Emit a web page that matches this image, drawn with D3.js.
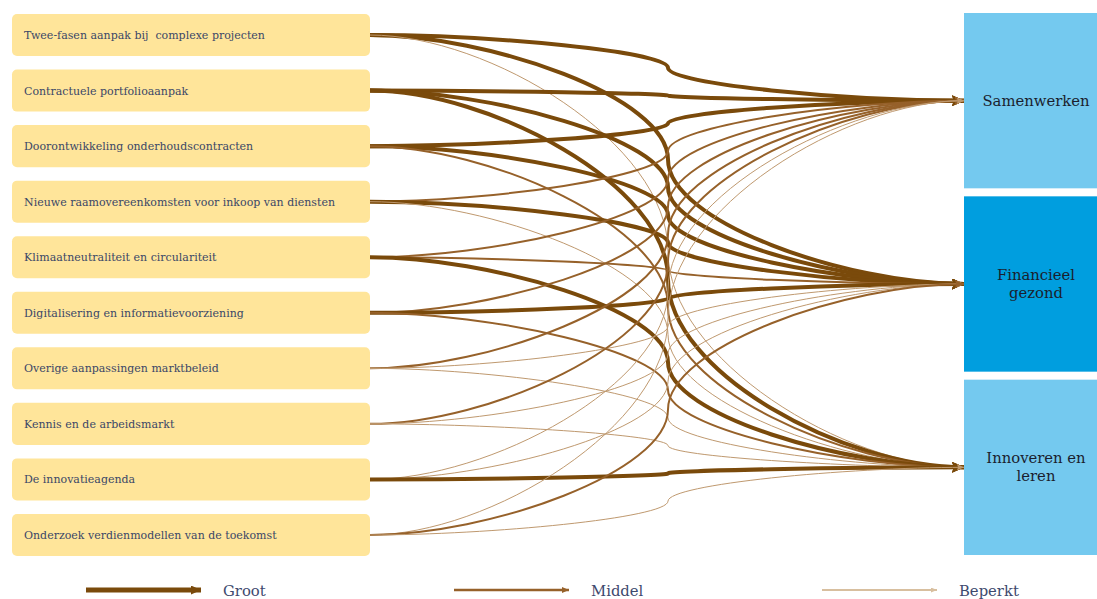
<!DOCTYPE html>
<html>
<head>
<meta charset="utf-8">
<script src="https://cdn.jsdelivr.net/npm/d3@7"></script>
<style>
  html, body { margin: 0; padding: 0; background: #ffffff; }
  svg { display: block; }
</style>
</head>
<body>
<svg id="chart" width="1097" height="599"></svg>
<script>
// ---- data ----
const sources = [
  "Twee-fasen aanpak bij  complexe projecten",
  "Contractuele portfolioaanpak",
  "Doorontwikkeling onderhoudscontracten",
  "Nieuwe raamovereenkomsten voor inkoop van diensten",
  "Klimaatneutraliteit en circulariteit",
  "Digitalisering en informatievoorziening",
  "Overige aanpassingen marktbeleid",
  "Kennis en de arbeidsmarkt",
  "De innovatieagenda",
  "Onderzoek verdienmodellen van de toekomst"
];
const targets = ["Samenwerken", "Financieel\ngezond", "Innoveren en\nleren"];
const levels = ["Groot", "Middel", "Beperkt"];
const impactSamenwerken = ["Groot","Groot","Groot","Middel","Middel","Middel","Middel","Middel","Beperkt","Beperkt"];
const impactFinancieel  = ["Groot","Groot","Groot","Groot","Middel","Groot","Beperkt","Beperkt","Beperkt","Middel"];
const impactInnoveren   = ["Beperkt","Groot","Middel","Beperkt","Groot","Middel","Beperkt","Beperkt","Groot","Beperkt"];
const impacts = [impactSamenwerken, impactFinancieel, impactInnoveren];

// ---- build links ----
const links = [];
sources.forEach((s, i) => {
  targets.forEach((t, j) => {
    links.push({ source: s, target: t, level: impacts[j][i] });
  });
});

const svg = d3.select("#chart");

// ---- scales ----
const ySrc = d3.scaleBand().domain(sources).range([14, 556]).paddingInner(0.243);
const yTgt = d3.scaleBand().domain(targets).range([13, 555]).paddingInner(0.0437);
const widthScale = d3.scaleOrdinal(levels, [4, 2, 1]);
const colorScale = d3.scaleOrdinal(levels, ["#7A4A0B", "#96612A", "#BF996F"]);
const legendColor = d3.scaleOrdinal(levels, ["#7A4A0B", "#96612A", "#D8BF9F"]);
const legendWidth = d3.scaleOrdinal(levels, [5, 2.5, 2]);
const markerSize = d3.scaleOrdinal(levels, [[12, 11], [9, 8], [7, 6]]);
const legendMarker = d3.scaleOrdinal(levels, [[10, 9], [7, 6], [6, 5]]);
const xLegend = d3.scalePoint().domain(levels).range([86, 822]);

const srcX0 = 12, srcX1 = 370, midX = 668, tgtTipX = 964, tgtX0 = 964, tgtX1 = 1110;

// ---- markers ----
const defs = svg.append("defs");
levels.forEach(l => {
  const [w, h] = markerSize(l);
  defs.append("marker")
    .attr("id", "arrow-" + l)
    .attr("markerUnits", "userSpaceOnUse")
    .attr("viewBox", `0 0 ${w} ${h}`)
    .attr("refX", w).attr("refY", h / 2)
    .attr("markerWidth", w).attr("markerHeight", h)
    .attr("orient", "auto")
    .append("path")
    .attr("d", `M0,0 L${w},${h / 2} L0,${h} L${w*0.15},${h/2} Z`)
    .attr("fill", colorScale(l));
  const [lw, lh] = legendMarker(l);
  defs.append("marker")
    .attr("id", "legarrow-" + l)
    .attr("markerUnits", "userSpaceOnUse")
    .attr("viewBox", `0 0 ${lw} ${lh}`)
    .attr("refX", lw).attr("refY", lh / 2)
    .attr("markerWidth", lw).attr("markerHeight", lh)
    .attr("orient", "auto")
    .append("path")
    .attr("d", `M0,0 L${lw},${lh / 2} L0,${lh} Z`)
    .attr("fill", legendColor(l));
});

// ---- source boxes ----
const srcG = svg.append("g");
srcG.selectAll("rect").data(sources).join("rect")
  .attr("x", srcX0).attr("y", d => ySrc(d))
  .attr("width", srcX1 - srcX0).attr("height", ySrc.bandwidth())
  .attr("rx", 5).attr("ry", 5)
  .attr("fill", "#FFE59A");
srcG.selectAll("text").data(sources).join("text")
  .attr("x", 24).attr("y", d => ySrc(d) + ySrc.bandwidth() / 2 + 4)
  .attr("font-family", "'DejaVu Serif', serif")
  .attr("font-size", 11)
  .attr("fill", "#3B4767")
  .style("white-space", "pre")
  .text(d => d);

// ---- target boxes ----
const tgtG = svg.append("g");
tgtG.selectAll("rect").data(targets).join("rect")
  .attr("x", tgtX0).attr("y", d => yTgt(d))
  .attr("width", tgtX1 - tgtX0).attr("height", yTgt.bandwidth())
  .attr("fill", (d, i) => i === 1 ? "#009EDF" : "#74C9EF");
targets.forEach(t => {
  const lines = t.split("\n");
  const cy = yTgt(t) + yTgt.bandwidth() / 2;
  const lh = 18;
  const txt = tgtG.append("text")
    .attr("font-family", "'DejaVu Serif', serif")
    .attr("font-size", 14.8)
    .attr("fill", "#1B1E2E")
    .attr("text-anchor", "middle");
  lines.forEach((ln, k) => {
    txt.append("tspan")
      .attr("x", 1036)
      .attr("y", cy + 5 + (k - (lines.length - 1) / 2) * lh)
      .text(ln);
  });
});

// ---- links ----
function linkPath(d) {
  const sx = srcX1, sy = ySrc(d.source) + ySrc.bandwidth() / 2;
  const tx = tgtTipX, ty = yTgt(d.target) + yTgt.bandwidth() / 2;
  const my = (sy + ty) / 2;
  const w1 = midX - sx, w2 = tx - midX;
  const k = 0.4, a = 0.5;
  const p = d3.path();
  p.moveTo(sx, sy);
  p.bezierCurveTo(sx + k * w1, sy, midX, sy + a * (my - sy), midX, my);
  p.bezierCurveTo(midX, ty - a * (ty - my), tx - k * w2, ty, tx, ty);
  return p.toString();
}

svg.append("g").attr("fill", "none")
  .selectAll("path").data(links).join("path")
  .attr("d", linkPath)
  .attr("stroke", d => colorScale(d.level))
  .attr("stroke-width", d => widthScale(d.level))
  .attr("marker-end", d => `url(#arrow-${d.level})`);

// ---- legend ----
const legG = svg.append("g");
levels.forEach(l => {
  const x0 = xLegend(l);
  legG.append("line")
    .attr("x1", x0).attr("x2", x0 + 115)
    .attr("y1", 590).attr("y2", 590)
    .attr("stroke", legendColor(l))
    .attr("stroke-width", legendWidth(l))
    .attr("marker-end", `url(#legarrow-${l})`);
  legG.append("text")
    .attr("x", x0 + 137).attr("y", 596)
    .attr("font-family", "'DejaVu Serif', serif")
    .attr("font-size", 14.8)
    .attr("fill", "#3E4A6E")
    .text(l);
});
</script>
</body>
</html>
